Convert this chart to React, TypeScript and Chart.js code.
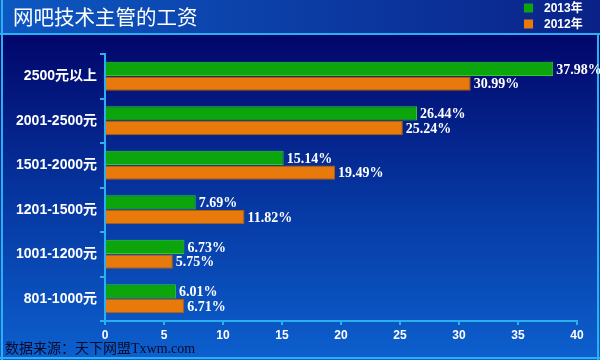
import React, { useEffect, useRef } from "react";
import { Chart, registerables } from "chart.js";

Chart.register(...registerables);

const categories = ["2500元以上", "2001-2500元", "1501-2000元", "1201-1500元", "1001-1200元", "801-1000元"];
const values2013 = [37.98, 26.44, 15.14, 7.69, 6.73, 6.01];
const values2012 = [30.99, 25.24, 19.49, 11.82, 5.75, 6.71];
const seriesLabels = ["2013年", "2012年"];
const titleText = "网吧技术主管的工资";
const sourceText = "数据来源：天下网盟Txwm.com";
const xMin = 0;
const xMax = 40;
const xStep = 5;

const GREEN = "#0ca50c";
const ORANGE = "#e87a0c";
const LINE = "#2ab0f0";

const bgPlugin = {
  id: "bgPlugin",
  beforeDraw(chart: any) {
    const { ctx, width, height } = chart;
    ctx.save();
    const g = ctx.createLinearGradient(0, 36, 0, height);
    g.addColorStop(0, "#01066a");
    g.addColorStop(0.5, "#0636a0");
    g.addColorStop(1, "#0c60ce");
    ctx.fillStyle = g;
    ctx.fillRect(0, 0, width, height);
    const t = ctx.createLinearGradient(0, 0, width, 0);
    t.addColorStop(0, "#0d58c2");
    t.addColorStop(1, "#0a2288");
    ctx.fillStyle = t;
    ctx.fillRect(0, 0, width, 34);
    ctx.fillStyle = LINE;
    ctx.fillRect(0, 33, width, 2);
    ctx.fillRect(1, 0, 2, height);
    ctx.fillRect(width - 3, 35, 2, height - 35);
    ctx.fillRect(0, height - 3, width, 2);
    ctx.fillStyle = "#ffffff";
    ctx.font = '20.5px "Noto Sans CJK SC", sans-serif';
    ctx.textBaseline = "middle";
    ctx.textAlign = "left";
    ctx.fillText(titleText, 13, 17);
    chart.data.datasets.forEach((ds: any, i: number) => {
      const y = 8 + i * 16;
      ctx.fillStyle = ds.backgroundColor;
      ctx.fillRect(524, y - 4.5, 9, 9);
      ctx.fillStyle = "#ffffff";
      ctx.font = 'bold 12px "Liberation Sans", "Noto Sans CJK SC", sans-serif';
      ctx.fillText(ds.label, 544, y + 1);
    });
    ctx.fillStyle = "#0a0a2a";
    ctx.font = '14px "Liberation Serif", "Noto Sans CJK SC", serif';
    ctx.fillText(sourceText, 5, 349);
    ctx.restore();
  },
};

const labelPlugin = {
  id: "labelPlugin",
  afterDatasetsDraw(chart: any) {
    const { ctx } = chart;
    ctx.save();
    ctx.fillStyle = "#ffffff";
    ctx.font = 'bold 14px "Liberation Serif", serif';
    ctx.textBaseline = "middle";
    ctx.textAlign = "left";
    chart.data.datasets.forEach((ds: any, di: number) => {
      const meta = chart.getDatasetMeta(di);
      meta.data.forEach((bar: any, i: number) => {
        ctx.fillText(ds.data[i].toFixed(2) + "%", bar.x + 3, bar.y + 1);
      });
    });
    ctx.restore();
  },
};

export default function App() {
  const ref = useRef<HTMLCanvasElement>(null);
  useEffect(() => {
    if (!ref.current) return;
    const chart = new Chart(ref.current, {
      type: "bar",
      data: {
        labels: categories,
        datasets: [
          {
            label: seriesLabels[0],
            data: values2013,
            backgroundColor: GREEN,
            borderColor: "#30c830",
            borderWidth: 1,
            categoryPercentage: 0.66,
            barPercentage: 0.96,
          },
          {
            label: seriesLabels[1],
            data: values2012,
            backgroundColor: ORANGE,
            borderColor: "#b85c00",
            borderWidth: 1,
            categoryPercentage: 0.66,
            barPercentage: 0.96,
          },
        ],
      },
      options: {
        indexAxis: "y",
        animation: false,
        responsive: false,
        layout: { padding: { left: 0, right: 23, top: 54, bottom: 0 } },
        plugins: {
          legend: { display: false },
          tooltip: { enabled: false },
          title: { display: false },
        },
        scales: {
          x: {
            min: xMin,
            max: xMax,
            ticks: {
              stepSize: xStep,
              color: "#ffffff",
              font: { family: '"Liberation Sans", sans-serif', size: 12, weight: "bold" },
              padding: 3,
            },
            grid: { drawOnChartArea: false, drawTicks: true, tickLength: 4, color: LINE, lineWidth: 2 },
            border: { color: LINE, width: 2 },
            afterFit(scale: any) {
              scale.height = 39;
            },
          },
          y: {
            ticks: {
              color: "#ffffff",
              font: { family: '"Liberation Sans", "Noto Sans CJK SC", sans-serif', size: 14, weight: "bold" },
              padding: 3,
            },
            grid: { drawOnChartArea: false, drawTicks: true, tickLength: 5, color: LINE, lineWidth: 2, offset: true },
            border: { color: LINE, width: 2 },
            afterFit(scale: any) {
              scale.width = 105;
            },
          },
        },
      },
      plugins: [bgPlugin, labelPlugin],
    } as any);
    return () => chart.destroy();
  }, []);
  return (
    <div style={{ position: "absolute", left: 0, top: 0, width: 600, height: 360 }}>
      <canvas ref={ref} width={600} height={360} />
    </div>
  );
}
